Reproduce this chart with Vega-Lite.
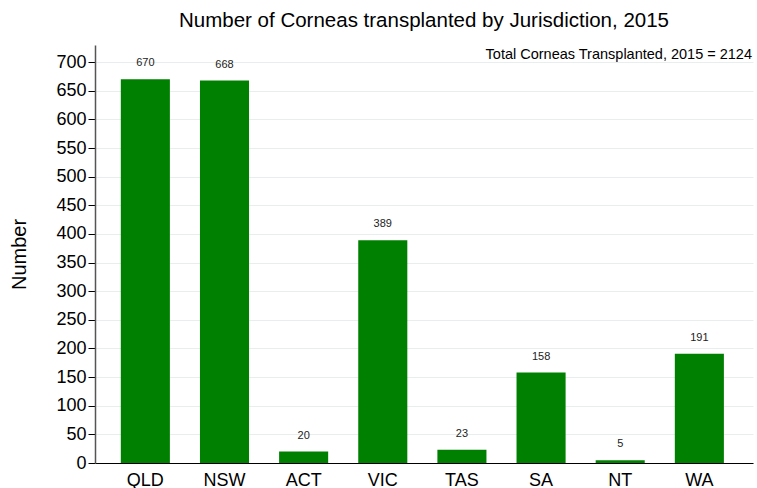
{
  "$schema": "https://vega.github.io/schema/vega-lite/v6.json",
  "width": 658,
  "height": 418,
  "autosize": {"type": "none"},
  "padding": {"left": 95, "top": 45, "right": 4, "bottom": 25},
  "background": "white",
  "title": {"text": "Number of Corneas transplanted by Jurisdiction, 2015", "fontSize": 20.5, "font": "Liberation Sans", "fontWeight": "normal", "color": "black", "offset": 14, "anchor": "middle"},
  "config": {"view": {"stroke": null}, "font": "Liberation Sans"},
  "data": {"values": [
    {"state": "QLD", "n": 670},
    {"state": "NSW", "n": 668},
    {"state": "ACT", "n": 20},
    {"state": "VIC", "n": 389},
    {"state": "TAS", "n": 23},
    {"state": "SA", "n": 158},
    {"state": "NT", "n": 5},
    {"state": "WA", "n": 191}
  ]},
  "encoding": {
    "x": {"field": "state", "type": "nominal", "sort": null,
      "scale": {"paddingInner": 0.38, "paddingOuter": 0.347, "align": 0.47},
      "axis": {"title": null, "labelAngle": 0, "labelFontSize": 18, "labelColor": "black", "ticks": false, "labelPadding": 8, "domainColor": "black", "domainWidth": 1, "grid": false}},
    "y": {"field": "n", "type": "quantitative",
      "scale": {"domain": [0, 730], "nice": false},
      "axis": {"title": "Number", "titleFontSize": 20, "titleFontWeight": "normal", "titleColor": "black", "titlePadding": 26,
        "values": [0,50,100,150,200,250,300,350,400,450,500,550,600,650,700],
        "labelFontSize": 18, "labelColor": "black", "tickSize": 7, "tickColor": "black", "labelPadding": 2,
        "domainColor": "#555555", "domainWidth": 1.5, "gridColor": "#e8eeee", "gridWidth": 1}}
  },
  "layer": [
    {"mark": {"type": "bar", "color": "#008000"}},
    {"mark": {"type": "text", "baseline": "bottom", "dy": -11, "fontSize": 11, "color": "#222222"},
     "encoding": {"text": {"field": "n", "type": "quantitative"}}},
    {"data": {"values": [{"label": "Total Corneas Transplanted, 2015 = 2124", "yv": 712}]},
     "mark": {"type": "text", "align": "right", "baseline": "middle", "fontSize": 14.5, "color": "black", "dx": -1},
     "encoding": {"x": {"value": "width"}, "y": {"field": "yv", "type": "quantitative"}, "text": {"field": "label"}}}
  ]
}
